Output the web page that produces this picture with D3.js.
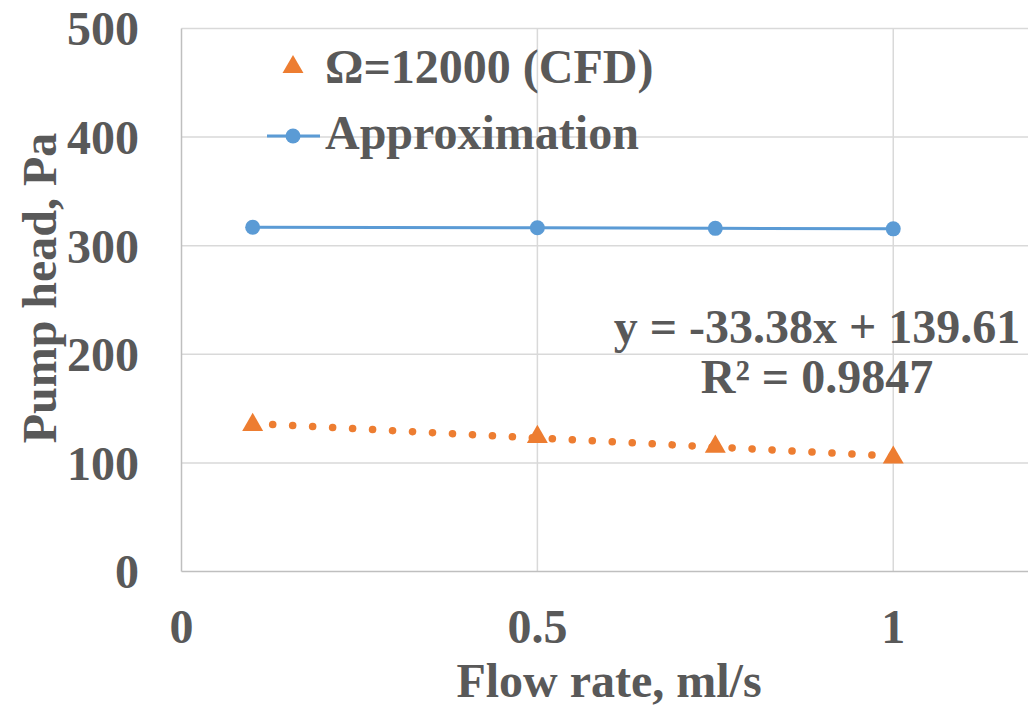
<!DOCTYPE html>
<html><head><meta charset="utf-8">
<script src="https://cdn.jsdelivr.net/npm/d3@7"></script>
<style>body{margin:0;background:#fff;} text{font-family:"Liberation Serif","Times New Roman",serif;font-weight:bold;fill:#595959;}</style>
</head><body>
<svg id="c" width="1028" height="707"></svg>
<script>
const flowRate = [0.1, 0.5, 0.75, 1.0];
const cfdHead = [135, 124, 115, 105];
const approxHead = [317, 316.5, 316, 315.5];
const xTicks = [0, 0.5, 1];
const yTicks = [0, 100, 200, 300, 400, 500];
const trendSlope = -33.38, trendIntercept = 139.61;
const seriesNames = ["Ω=12000 (CFD)", "Approximation"];
const equationLines = ["y = -33.38x + 139.61", "R² = 0.9847"];

const svg = d3.select("#c");
const x = d3.scaleLinear().domain([0, 1.2]).range([181.5, 1035.6]);
const y = d3.scaleLinear().domain([0, 500]).range([571.5, 28.5]);
const orange = "#ED7D31", blue = "#5B9BD5", grid = "#D9D9D9";
const FS = 48;

// gridlines
svg.append("g").selectAll("line").data(yTicks.filter(d=>d>0)).join("line")
  .attr("x1", x(0)).attr("x2", 1028).attr("y1", d=>y(d)).attr("y2", d=>y(d))
  .attr("stroke", grid).attr("stroke-width", 1.5);
svg.append("g").selectAll("line").data(xTicks.filter(d=>d>0)).join("line")
  .attr("x1", d=>x(d)).attr("x2", d=>x(d)).attr("y1", y(0)).attr("y2", y(500))
  .attr("stroke", grid).attr("stroke-width", 1.5);
// axes lines
svg.append("line").attr("x1", x(0)).attr("x2", 1028).attr("y1", y(0)).attr("y2", y(0)).attr("stroke", "#BFBFBF").attr("stroke-width", 1.5);
svg.append("line").attr("x1", x(0)).attr("x2", x(0)).attr("y1", y(0)).attr("y2", y(500)).attr("stroke", "#BFBFBF").attr("stroke-width", 1.5);

// tick labels
svg.append("g").selectAll("text").data(yTicks).join("text")
  .attr("x", 139).attr("y", d=>y(d)).attr("dy", "0.35em").attr("text-anchor", "end")
  .attr("font-size", FS).text(d=>d);
svg.append("g").selectAll("text").data(xTicks).join("text")
  .attr("x", d=>x(d)).attr("y", 643).attr("text-anchor", "middle")
  .attr("font-size", FS).text(d=>d);

// axis titles
svg.append("text").attr("x", 609).attr("y", 697).attr("text-anchor", "middle").attr("font-size", FS).text("Flow rate, ml/s");
svg.append("text").attr("transform", "translate(56,288) rotate(-90)").attr("text-anchor", "middle").attr("font-size", FS).text("Pump head, Pa");

// trendline (dotted)
const tx = d3.extent(flowRate);
svg.append("line").attr("x1", x(tx[0])).attr("x2", x(tx[1]))
  .attr("y1", y(trendSlope*tx[0]+trendIntercept)).attr("y2", y(trendSlope*tx[1]+trendIntercept))
  .attr("stroke", orange).attr("stroke-width", 7.5).attr("stroke-linecap", "round").attr("stroke-dasharray", "0.1 19.9");

// approximation line
const line = d3.line().x((d,i)=>x(flowRate[i])).y(d=>y(d));
svg.append("path").datum(approxHead).attr("d", line).attr("fill", "none").attr("stroke", blue).attr("stroke-width", 3);
svg.append("g").selectAll("circle").data(approxHead).join("circle")
  .attr("cx", (d,i)=>x(flowRate[i])).attr("cy", d=>y(d)).attr("r", 7.5).attr("fill", blue);

// CFD triangles
const tri = d3.symbol().type(d3.symbolTriangle).size(190);
svg.append("g").selectAll("path").data(cfdHead).join("path")
  .attr("d", tri).attr("transform", (d,i)=>`translate(${x(flowRate[i])},${y(d)})`).attr("fill", orange);

// legend
svg.append("path").attr("d", tri).attr("transform", "translate(293,67)").attr("fill", orange);
svg.append("text").attr("x", 325).attr("y", 83).attr("font-size", FS).text(seriesNames[0]);
svg.append("line").attr("x1", 267).attr("x2", 320).attr("y1", 136).attr("y2", 136).attr("stroke", blue).attr("stroke-width", 3);
svg.append("circle").attr("cx", 293).attr("cy", 136).attr("r", 7.5).attr("fill", blue);
svg.append("text").attr("x", 325).attr("y", 149).attr("font-size", FS).text(seriesNames[1]);

// equation
svg.append("g").selectAll("text").data(equationLines).join("text")
  .attr("x", 817).attr("y", (d,i)=>343+i*50).attr("text-anchor", "middle").attr("font-size", FS).text(d=>d);
</script>
</body></html>
